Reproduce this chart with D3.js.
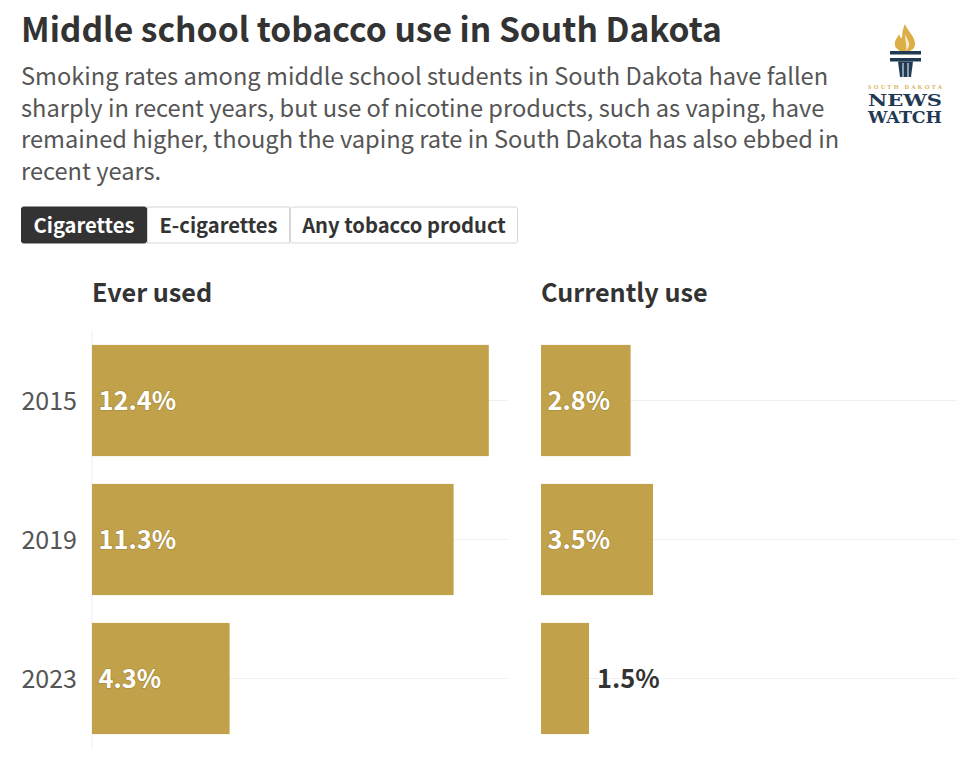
<!DOCTYPE html>
<html><head><meta charset="utf-8">
<script src="https://cdn.jsdelivr.net/npm/d3@7/dist/d3.min.js"></script>
<style>
html,body{margin:0;padding:0;background:#fff}
svg{display:block}
text{font-family:"Noto Sans CJK SC","Noto Sans",sans-serif}
</style></head><body>
<svg id="c" width="980" height="774" viewBox="0 0 980 774"></svg>
<script>
const title = "Middle school tobacco use in South Dakota";
const subtitleLines = [
  "Smoking rates among middle school students in South Dakota have fallen",
  "sharply in recent years, but use of nicotine products, such as vaping, have",
  "remained higher, though the vaping rate in South Dakota has also ebbed in",
  "recent years."
];
const tabs = ["Cigarettes", "E-cigarettes", "Any tobacco product"];
const years = ["2015", "2019", "2023"];
const panels = ["Ever used", "Currently use"];
const everUsed = [12.4, 11.3, 4.3];
const currentlyUse = [2.8, 3.5, 1.5];

const svg = d3.select("#c");
const gold = "#c1a24b", ink = "#333333", grey = "#555555";

svg.append("text").attr("x",21).attr("y",41.5).attr("font-size",33.6).attr("font-weight",700)
  .attr("fill",ink).text(title);
svg.append("g").selectAll("text").data(subtitleLines).join("text")
  .attr("x",21).attr("y",(d,i)=>85+i*31.5).attr("font-size",23.65).attr("fill",grey).text(d=>d);

// tabs
const tabEdges = [21,147,290,518];
const tg = svg.append("g");
tabs.forEach((t,i)=>{
  const x0=tabEdges[i], x1=tabEdges[i+1];
  tg.append("rect").attr("x",x0+.5).attr("y",207).attr("width",x1-x0-1).attr("height",36)
    .attr("rx",i==1?0:2).attr("fill",i==0?"#333333":"#fff").attr("stroke",i==0?"#333333":"#d6d6d6").attr("stroke-width",1);
  tg.append("text").attr("x",(x0+x1)/2).attr("y",232.5).attr("text-anchor","middle")
    .attr("font-size",20.2).attr("font-weight",700).attr("fill",i==0?"#fff":ink).text(t);
});

// chart
const y = d3.scaleBand().domain(years).range([331,748]).paddingInner(0.2).paddingOuter(0.1);
const panelX = [92,541], panelW = 416;
const x = d3.scaleLinear().domain([0,13]).range([0,panelW]);
[everUsed,currentlyUse].forEach((vals,p)=>{
  const g = svg.append("g").attr("transform",`translate(${panelX[p]},0)`);
  g.append("text").attr("x",0).attr("y",302).attr("font-size",25.2).attr("font-weight",700).attr("fill",ink).text(panels[p]);
  g.append("g").selectAll("line").data(years).join("line")
    .attr("x1",0).attr("x2",panelW)
    .attr("y1",d=>y(d)+y.bandwidth()/2).attr("y2",d=>y(d)+y.bandwidth()/2)
    .attr("stroke","#efefef").attr("stroke-width",1);
  if(p===0) g.append("line").attr("x1",0).attr("x2",0).attr("y1",331).attr("y2",748).attr("stroke","#eeeeee");
  g.append("g").selectAll("rect").data(vals).join("rect")
    .attr("x",0).attr("y",(d,i)=>y(years[i])).attr("width",d=>x(d)).attr("height",y.bandwidth()).attr("fill",gold);
  g.append("g").selectAll("text").data(vals).join("text")
    .each(function(d,i){
      const inside = x(d) > 60;
      const s = d3.select(this)
        .attr("x", inside ? 6.5 : x(d)+8)
        .attr("y", y(years[i])+y.bandwidth()/2+9)
        .attr("font-size",25.4).attr("font-weight",700)
        .attr("fill", inside ? "#fff" : ink)
        .text(d.toFixed(1)+"%");
      if(inside) s.attr("stroke","#9c8238").attr("stroke-width",1.6).attr("stroke-opacity",.6).style("paint-order","stroke");
      else s.attr("stroke","#fff").attr("stroke-width",5).style("paint-order","stroke");
    });
});
svg.append("g").selectAll("text").data(years).join("text")
  .attr("x",77).attr("y",d=>y(d)+y.bandwidth()/2+9).attr("text-anchor","end")
  .attr("font-size",25).attr("fill",grey).text(d=>d);

// logo
const logo = svg.append("g");
const navy = "#1f3a52";
logo.append("path").attr("fill","#dcae45")
  .attr("d","M905 24 C908 32 915 36 915 44 C915 48 912 50 910 51 L900 51 C897 49 894 47 895 42 C896 38 898 37 899 34 C900 37 901 38 902 38 C902 33 903 28 905 24 Z");
logo.append("path").attr("fill","#fff").attr("opacity",.75).attr("d","M905 34 C907 39 910 42 909 46 C908 48 907 50 906 51 C907 46 905 41 905 34 Z");
logo.append("rect").attr("x",890).attr("y",51).attr("width",31).attr("height",3.5).attr("fill",navy);
logo.append("rect").attr("x",890).attr("y",58).attr("width",31).attr("height",3.5).attr("fill",navy);
logo.append("path").attr("fill",navy).attr("d","M898 61.5 L913 61.5 L911 77 L900 77 Z");
logo.append("path").attr("stroke","#fff").attr("stroke-width",1).attr("fill","none").attr("d","M903 63V77M908 63V77");
logo.append("text").attr("x",905).attr("y",88.5).attr("text-anchor","middle").attr("font-size",6).attr("font-weight",700)
  .attr("fill","#d7b35a").style("font-family","'Liberation Serif',serif").attr("textLength",74).text("SOUTH DAKOTA");
logo.append("text").attr("x",905).attr("y",105.5).attr("text-anchor","middle").attr("font-size",17).attr("font-weight",700)
  .attr("fill",navy).style("font-family","'DejaVu Serif',serif").attr("textLength",74).attr("lengthAdjust","spacingAndGlyphs").text("NEWS");
logo.append("text").attr("x",905).attr("y",122.5).attr("text-anchor","middle").attr("font-size",16.5).attr("font-weight",700)
  .attr("fill",navy).style("font-family","'DejaVu Serif',serif").attr("textLength",74).attr("lengthAdjust","spacingAndGlyphs").text("WATCH");
</script>
</body></html>
